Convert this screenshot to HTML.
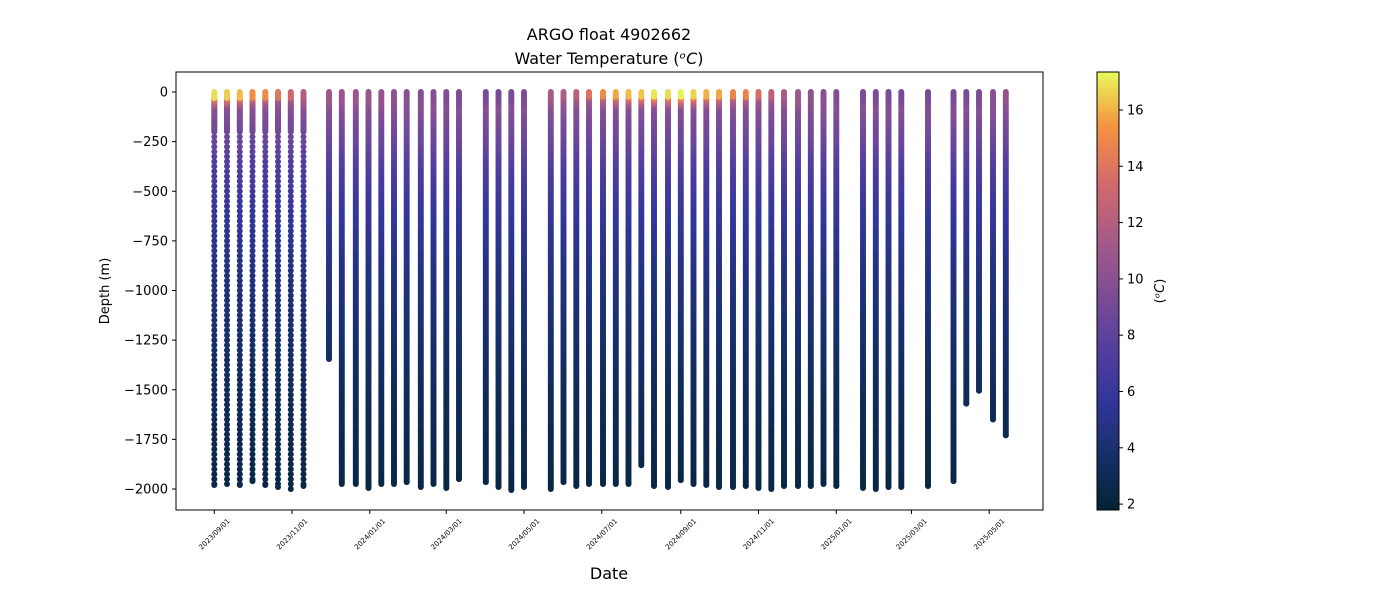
<!DOCTYPE html>
<html><head><meta charset="utf-8"><style>
body{margin:0;background:#fff;font-family:"Liberation Sans","DejaVu Sans",sans-serif}
svg text{font-family:"DejaVu Sans","Liberation Sans",sans-serif}
</style></head><body>
<svg id="chart" width="1400" height="600" xmlns="http://www.w3.org/2000/svg">
<defs>
<linearGradient id="cbgrad" x1="0" y1="1" x2="0" y2="0">
<stop offset="0" stop-color="#042333"/><stop offset="0.125" stop-color="#172f6b"/>
<stop offset="0.25" stop-color="#32369a"/><stop offset="0.375" stop-color="#573f9f"/>
<stop offset="0.5" stop-color="#7f4e95"/><stop offset="0.625" stop-color="#a85b86"/>
<stop offset="0.75" stop-color="#d56a6a"/><stop offset="0.875" stop-color="#f5913f"/>
<stop offset="1" stop-color="#e8fa5b"/>
</linearGradient>
<clipPath id="plotclip"><rect x="176" y="72" width="867" height="438"/></clipPath>
</defs>
<text x="609" y="40" text-anchor="middle" font-size="16">ARGO float 4902662</text>
<text x="609" y="64" text-anchor="middle" font-size="16">Water Temperature (<tspan font-style="italic">ᵒC</tspan>)</text>
<g id="marks" clip-path="url(#plotclip)"></g>
<rect x="176" y="72" width="867" height="438" fill="none" stroke="#000" stroke-width="1"/>
<g id="yaxis"></g>
<g id="xaxis"></g>
<text transform="translate(109,291) rotate(-90)" text-anchor="middle" font-size="13">Depth (m)</text>
<text x="609" y="579" text-anchor="middle" font-size="16">Date</text>
<rect x="1097" y="72" width="22" height="438" fill="url(#cbgrad)" stroke="#000" stroke-width="1"/>
<g id="cbaxis"></g>
<text transform="translate(1164,291) rotate(-90)" text-anchor="middle" font-size="13">(<tspan font-style="italic">ᵒC</tspan>)</text>
</svg>
<script>
// profile dates as days since 2023-09-01
const profileDays = [0,10,20,30,40,50,60,70, 90,100,111,121,131,141,151,162,172,182,192, 213,223,233,243, 264,274,284,294,305,315,325,335,345,356,366,376,386,396,407,417,427,437,447,458,468,478,488, 509,519,529,539, 560, 580,590,600,611,621];
const maxDepths = [1980,1975,1980,1960,1980,1990,2000,1985, 1345,1975,1975,1995,1975,1975,1965,1990,1975,1995,1950, 1965,1990,2005,1990, 2000,1965,1985,1975,1975,1975,1975,1880,1985,1990,1955,1975,1980,1990,1990,1985,1995,2000,1985,1985,1985,1975,1985, 1995,2000,1990,1990, 1985, 1960,1570,1505,1650,1730];
const surfaceTemps = [16.8,16.5,16.2,15.2,15.0,14.0,13.2,12.0, 11.0,10.8,10.8,10.8,10.6,10.3,10.0,9.8,9.8,9.6,9.4, 9.3,9.2,9.3,9.4, 11.5,11.8,12.2,13.8,15.0,15.8,16.2,16.4,17.0,16.8,17.2,16.6,16.0,15.8,14.8,14.8,13.6,12.4,11.4,11.0,10.3,9.9,9.6, 9.4,9.3,9.3,9.2, 9.2, 9.3,9.3,9.4,10.0,10.5];
const shapeDepths = [0,40,80,150,250,400,600,900,1200,1500,2000];
const shapeTemps = [null,11,10,9.2,8.5,7.0,5.8,4.6,3.8,3.1,2.4];
const xTickLabels = ["2023/09/01","2023/11/01","2024/01/01","2024/03/01","2024/05/01","2024/07/01","2024/09/01","2024/11/01","2025/01/01","2025/03/01","2025/05/01"];
const xTickDays = [0,61,122,182,243,304,366,427,488,547,608];
const yTicks = [0,-250,-500,-750,-1000,-1250,-1500,-1750,-2000];
const cbTicks = [2,4,6,8,10,12,14,16];

const NS="http://www.w3.org/2000/svg";
const xS = d => 214.3 + d*1.2745;
const yS = v => 92 - v*0.1985;
const cMin=1.79, cMax=17.35;
const cS = t => 510 - (t-cMin)/(cMax-cMin)*438;
const stops=[[0,[4,35,51]],[0.125,[23,47,107]],[0.25,[50,54,154]],[0.375,[87,63,159]],[0.5,[127,78,149]],[0.625,[168,91,134]],[0.75,[213,106,106]],[0.875,[245,145,63]],[1,[232,250,91]]];
function cmap(t){let f=(t-cMin)/(cMax-cMin);f=Math.max(0,Math.min(1,f));
 for(let i=1;i<stops.length;i++){if(f<=stops[i][0]){const a=stops[i-1],b=stops[i];const u=(f-a[0])/(b[0]-a[0]);
 return `rgb(${a[1].map((c,k)=>Math.round(c+(b[1][k]-c)*u)).join(',')})`;}}return 'rgb(232,250,91)';}
function tempAt(z,surf){
 const s=shapeTemps.slice();s[0]=surf;
 if(z<=30) return surf;
 s[1]=Math.min(surf,Math.max(s[1],surf-3));
 for(let i=1;i<shapeDepths.length;i++){if(z<=shapeDepths[i]){const z0=shapeDepths[i-1],z1=shapeDepths[i];const t0=i===1?surf:s[i-1];return t0+(s[i]-t0)*(z-z0)/(z1-z0);}}
 return s[s.length-1];}
const marks=document.getElementById('marks');
profileDays.forEach((d,p)=>{
 const g=document.createElementNS(NS,'g');
 
 
 const sparse=p<8;
 const pts=[];
 if(sparse){for(let z=0;z<=200;z+=5)pts.push(z);for(let z=225;z<maxDepths[p];z+=25)pts.push(z);}
 else{for(let z=0;z<maxDepths[p];z+=8)pts.push(z);}
 pts.push(maxDepths[p]);
 pts.reverse().forEach(z=>{const c=document.createElementNS(NS,'circle');
  c.setAttribute('cx',xS(d).toFixed(1));c.setAttribute('cy',yS(-z).toFixed(1));c.setAttribute('r','3');
  c.setAttribute('fill',cmap(tempAt(z,surfaceTemps[p])));g.appendChild(c);});
 marks.appendChild(g);
});
const ya=document.getElementById('yaxis');
yTicks.forEach(v=>{const y=yS(v);
 const l=document.createElementNS(NS,'line');l.setAttribute('x1',172);l.setAttribute('x2',176);l.setAttribute('y1',y);l.setAttribute('y2',y);l.setAttribute('stroke','#000');
 
 ya.appendChild(l);
 const t=document.createElementNS(NS,'text');t.setAttribute('x',168);t.setAttribute('y',y+4.5);t.setAttribute('text-anchor','end');t.setAttribute('font-size','13');t.textContent=(v<0?'\u2212'+(-v):v);
 
 ya.appendChild(t);});
const xa=document.getElementById('xaxis');
xTickDays.forEach((d,i)=>{const x=xS(d);
 const l=document.createElementNS(NS,'line');l.setAttribute('x1',x);l.setAttribute('x2',x);l.setAttribute('y1',510);l.setAttribute('y2',514);l.setAttribute('stroke','#000');
 
 xa.appendChild(l);
 const t=document.createElementNS(NS,'text');t.setAttribute('transform',`translate(${x},${534}) rotate(-45)`);t.setAttribute('text-anchor','middle');t.setAttribute('dy','0.35em');t.setAttribute('font-size','7');t.textContent=xTickLabels[i];
 
 xa.appendChild(t);});
const ca=document.getElementById('cbaxis');
cbTicks.forEach(v=>{const y=cS(v);
 const l=document.createElementNS(NS,'line');l.setAttribute('x1',1119);l.setAttribute('x2',1123);l.setAttribute('y1',y);l.setAttribute('y2',y);l.setAttribute('stroke','#000');
 
 ca.appendChild(l);
 const t=document.createElementNS(NS,'text');t.setAttribute('x',1127);t.setAttribute('y',y+4.5);t.setAttribute('font-size','13');t.textContent=v;
 
 ca.appendChild(t);});
</script>
</body></html>
